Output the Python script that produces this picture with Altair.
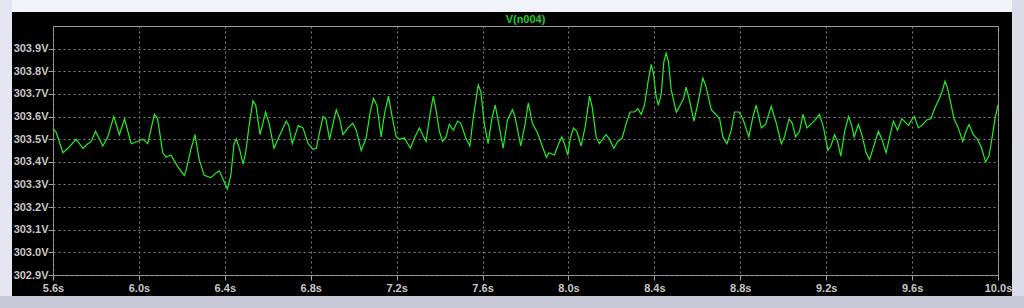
import altair as alt
import pandas as pd

# time (s) and voltage (V)
t_a = [5.600, 5.615, 5.646, 5.670, 5.708, 5.739, 5.762, 5.778, 5.798, 5.832, 5.855, 5.883, 5.909, 5.933,
       5.964, 5.994, 6.018, 6.041, 6.072, 6.087, 6.111, 6.126, 6.149, 6.180, 6.211, 6.219, 6.242, 6.261,
       6.281, 6.304, 6.335, 6.358, 6.374, 6.389, 6.412, 6.428, 6.443, 6.454, 6.469, 6.485, 6.497, 6.513,
       6.531, 6.544, 6.564, 6.590, 6.606, 6.629, 6.652, 6.686, 6.698, 6.714, 6.742]
v_a = [303.546, 303.53, 303.44, 303.46, 303.50, 303.46, 303.48, 303.49, 303.535, 303.47, 303.51, 303.60, 303.52, 303.59,
       303.48, 303.49, 303.50, 303.48, 303.61, 303.59, 303.44, 303.42, 303.43, 303.38, 303.34, 303.36, 303.455, 303.52,
       303.41, 303.34, 303.33, 303.35, 303.36, 303.33, 303.28, 303.34, 303.48, 303.50, 303.455, 303.39, 303.44, 303.56,
       303.67, 303.65, 303.52, 303.62, 303.57, 303.46, 303.51, 303.58, 303.56, 303.48, 303.56]

t_b = [6.764, 6.788, 6.811, 6.826, 6.842, 6.857, 6.870, 6.888, 6.904, 6.919, 6.935, 6.950, 6.973, 6.996,
       7.012, 7.035, 7.058, 7.077, 7.092, 7.108, 7.128, 7.143, 7.162, 7.179, 7.198, 7.213, 7.236, 7.264,
       7.283, 7.306, 7.321, 7.337, 7.357, 7.371, 7.383, 7.399, 7.414, 7.430, 7.445, 7.464, 7.484, 7.499,
       7.522, 7.541, 7.556, 7.580, 7.592, 7.608, 7.626, 7.643, 7.659, 7.677, 7.696, 7.716, 7.739, 7.751,
       7.778, 7.798, 7.813, 7.832, 7.855, 7.878, 7.897, 7.909]
v_b = [303.55, 303.48, 303.455, 303.46, 303.535, 303.60, 303.59, 303.50, 303.57, 303.63, 303.59, 303.52, 303.55, 303.57,
       303.54, 303.45, 303.505, 303.62, 303.68, 303.65, 303.51, 303.61, 303.69, 303.60, 303.51, 303.50, 303.505, 303.46,
       303.505, 303.55, 303.52, 303.49, 303.62, 303.69, 303.63, 303.535, 303.49, 303.51, 303.565, 303.54, 303.58, 303.57,
       303.505, 303.47, 303.59, 303.74, 303.71, 303.57, 303.48, 303.59, 303.65, 303.56, 303.46, 303.585, 303.63, 303.60,
       303.47, 303.565, 303.66, 303.57, 303.53, 303.47, 303.42, 303.44]

t_c = [7.935, 7.950, 7.969, 7.981, 7.997, 8.008, 8.023, 8.039, 8.059, 8.079, 8.098, 8.110, 8.129, 8.144,
       8.175, 8.191, 8.211, 8.230, 8.250, 8.269, 8.287, 8.307, 8.323, 8.339, 8.354, 8.370, 8.385, 8.396,
       8.408, 8.419, 8.432, 8.444, 8.455, 8.466, 8.478, 8.502, 8.520, 8.536, 8.548, 8.564, 8.584, 8.603,
       8.626, 8.641, 8.665, 8.685, 8.704, 8.719, 8.738, 8.758, 8.773, 8.794, 8.812, 8.840, 8.859, 8.874,
       8.898, 8.918, 8.944, 8.968, 8.991, 9.006, 9.027, 9.042, 9.058, 9.076]
v_c = [303.43, 303.47, 303.51, 303.48, 303.43, 303.50, 303.55, 303.535, 303.47, 303.56, 303.69, 303.645, 303.51, 303.48,
       303.52, 303.50, 303.46, 303.49, 303.505, 303.57, 303.62, 303.62, 303.635, 303.61, 303.65, 303.75, 303.83, 303.79,
       303.69, 303.65, 303.70, 303.84, 303.88, 303.84, 303.72, 303.62, 303.65, 303.68, 303.73, 303.67, 303.58, 303.66,
       303.77, 303.73, 303.63, 303.61, 303.59, 303.51, 303.48, 303.54, 303.62, 303.62, 303.59, 303.51, 303.60, 303.65,
       303.55, 303.565, 303.645, 303.57, 303.48, 303.51, 303.59, 303.57, 303.51, 303.535]

t_d = [9.092, 9.110, 9.133, 9.149, 9.169, 9.188, 9.208, 9.222, 9.239, 9.253, 9.268, 9.285, 9.304, 9.319,
       9.330, 9.350, 9.366, 9.386, 9.402, 9.417, 9.443, 9.459, 9.479, 9.498, 9.513, 9.532, 9.552, 9.564,
       9.583, 9.598, 9.611, 9.629, 9.650, 9.668, 9.687, 9.707, 9.727, 9.743, 9.753, 9.764, 9.780, 9.795,
       9.815, 9.836, 9.851, 9.865, 9.885, 9.904, 9.924, 9.942, 9.958, 9.973, 9.986, 10.0]
v_d = [303.61, 303.55, 303.57, 303.585, 303.61, 303.55, 303.45, 303.47, 303.52, 303.49, 303.425, 303.53, 303.60, 303.56,
       303.51, 303.565, 303.52, 303.44, 303.41, 303.455, 303.535, 303.50, 303.44, 303.52, 303.58, 303.54, 303.59, 303.58,
       303.56, 303.585, 303.60, 303.55, 303.565, 303.585, 303.59, 303.64, 303.68, 303.72, 303.756, 303.73, 303.66, 303.59,
       303.55, 303.49, 303.535, 303.565, 303.52, 303.50, 303.46, 303.40, 303.425, 303.51, 303.59, 303.65]

x_ticks = [5.6, 6.0, 6.4, 6.8, 7.2, 7.6, 8.0, 8.4, 8.8, 9.2, 9.6, 10.0]
y_ticks = [302.9, 303.0, 303.1, 303.2, 303.3, 303.4, 303.5, 303.6, 303.7, 303.8, 303.9]
title_text = "V(n004)"

df = pd.DataFrame({"t": t_a + t_b + t_c + t_d, "v": v_a + v_b + v_c + v_d})

W, H = 945, 249
PL, PT, PR, PB = 53, 26, 26, 33
one = pd.DataFrame({"k": [0]})

def strip(x0, x1, y0, y1, color):
    return alt.Chart(one).mark_rect(color=color).encode(
        x=alt.value(x0), x2=alt.value(x1), y=alt.value(y0), y2=alt.value(y1))

frame = alt.layer(
    strip(-PL, W + PR, -PT, -PT + 12, "#f2f2fa"),
    strip(-PL, -PL + 12, -PT, H + PB, "#e6e6f2"),
    strip(W + PR - 12, W + PR, -PT, H + PB, "#dcdce8"),
    strip(-PL, W + PR, H + PB - 12, H + PB, "#c8c8d8"),
)

title = alt.Chart(one).mark_text(
    color="#22cc22", font="Liberation Sans", fontWeight="bold", fontSize=11,
    align="center", baseline="alphabetic"
).encode(x=alt.value(W / 2), y=alt.value(-3), text=alt.value(title_text))

lbl = dict(labelColor="#c8c8c8", labelFont="Liberation Sans", labelFontWeight="bold", labelFontSize=11,
           labelFlush=False,
           grid=True, gridColor="#808080", gridDash=[2, 3], gridWidth=1, gridOpacity=1,
           tickColor="#a0a0a0", tickSize=5, domain=False, title=None)

line = alt.Chart(df).mark_line(color="#22ee22", strokeWidth=1.2).encode(
    x=alt.X("t:Q", scale=alt.Scale(domain=[5.6, 10.0], nice=False, zero=False),
            axis=alt.Axis(values=x_ticks, labelExpr="format(datum.value, '.1f') + 's'",
                          labelPadding=2, **lbl)),
    y=alt.Y("v:Q", scale=alt.Scale(domain=[302.9, 304.0], nice=False, zero=False),
            axis=alt.Axis(values=y_ticks, labelExpr="format(datum.value, '.1f') + 'V'",
                          labelPadding=0, **lbl)),
)

chart = alt.layer(frame, title, line).properties(
    width=W, height=H,
    autosize=alt.AutoSizeParams(type="none"),
    padding={"left": PL, "top": PT, "right": PR, "bottom": PB},
    background="#000000",
).configure_view(stroke="#a0a0a0", strokeWidth=1)

chart.save("out.html", embed_options={"renderer": "svg", "actions": False})
